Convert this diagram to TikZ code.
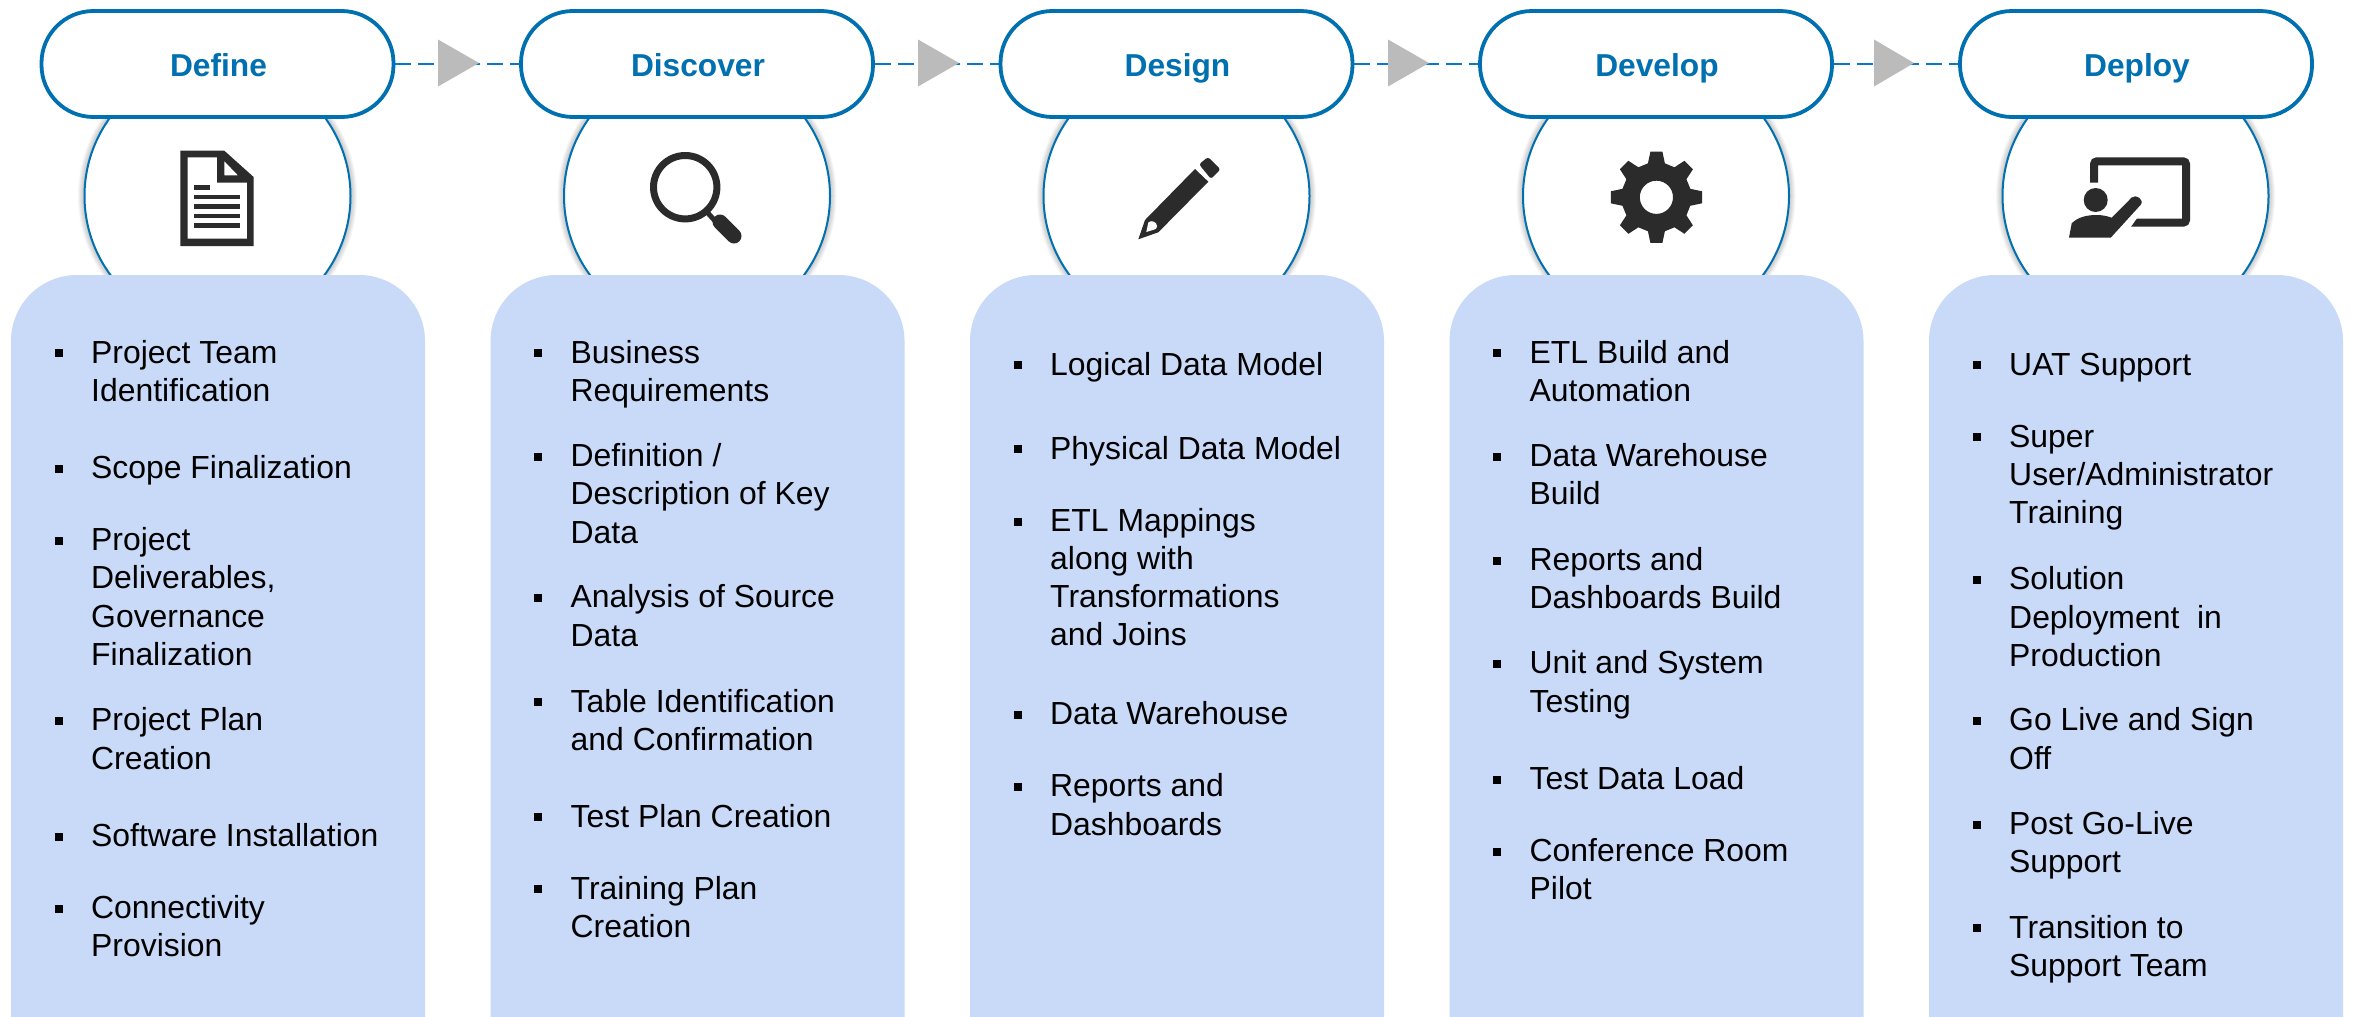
\documentclass[tikz,border=0pt]{standalone}
\usepackage{fontspec}
\setmainfont{Liberation Sans}
\definecolor{pillblue}{HTML}{0070B0}
\definecolor{dashblue}{HTML}{0A78C8}
\definecolor{cardblue}{HTML}{C9DAF8}
\definecolor{iconink}{HTML}{2B2B2B}
\definecolor{arrowgrey}{HTML}{BBBBBB}
\tikzset{
  pill/.style={draw=pillblue,line width=3.8pt,fill=white,rounded corners=52pt,minimum width=352pt,minimum height=106pt,
    inner sep=0pt,text height=24pt,text depth=0pt,text=pillblue,font=\fontsize{31.7}{38}\selectfont\bfseries},
  halo/.style={circle,draw=pillblue,line width=2pt,fill=white,minimum size=266pt,inner sep=0pt},
  glow/.style={draw=black,opacity=0.035},
  flow/.style={draw=dashblue,line width=2.8pt,dash pattern=on 16pt off 7pt},
  headtri/.style={fill=arrowgrey},
  itemtext/.style={anchor=north west,inner sep=0pt,align=left,text=black,font=\fontsize{31.9}{38.2}\selectfont},
  bulletmark/.style={fill=black,minimum size=8pt,inner sep=0pt,rectangle},
  icon/.style={fill=iconink}
}
\newcommand{\itm}[4]{%
  \pgfmathsetmacro{\bl}{1.5013*#3+11.6}%
  \node[bulletmark] (#1b) at (#2+47.8,\bl-9.5) {};
  \node[itemtext] (#1) at (#2+80,\bl-30) {\rule{0pt}{30pt}#4};
}
\begin{document}
\begin{tikzpicture}[x=1pt,y=-1pt]
\useasboundingbox (0,0) rectangle (2354,1017);
\fill[white] (0,0) rectangle (2354,1017);
% soft shadow round the circles
\foreach \cx in {217.5,697,1176.5,1656,2135.5}{
  \foreach \w in {3,5,7,9,11,13}{
    \draw[glow,line width=\w pt] (\cx,196) circle[radius=133pt];
  }
}
% circles
\node[halo] (c1) at (217.5,196) {};
\node[halo] (c2) at (697,196) {};
\node[halo] (c3) at (1176.5,196) {};
\node[halo] (c4) at (1656,196) {};
\node[halo] (c5) at (2135.5,196) {};
% cards
\foreach \L in {11,490.5,970,1449.5,1929}{
  \fill[cardblue] (\L,1017) [rounded corners=66pt] -- (\L,275) -- (\L+414,275) [sharp corners] -- (\L+414,1017) -- cycle;
}
% pills
\node[pill] (p1) at (217.5,64) {\hspace{2pt}Define};
\node[pill] (p2) at (697,64) {\hspace{2pt}Discover};
\node[pill] (p3) at (1176.5,64) {\hspace{2pt}Design};
\node[pill] (p4) at (1656,64) {\hspace{2pt}Develop};
\node[pill] (p5) at (2136,64) {\hspace{2pt}Deploy};
% connectors
\draw[flow] (p1.east) -- (p2.west);
\draw[flow] (p2.east) -- (p3.west);
\draw[flow] (p3.east) -- (p4.west);
\draw[flow] (p4.east) -- (p5.west);
\fill[headtri] (438,39.5) -- (479,63) -- (438,86.5) -- cycle;
\fill[headtri] (918,39.5) -- (959,63) -- (918,86.5) -- cycle;
\fill[headtri] (1388,39.5) -- (1429,63) -- (1388,86.5) -- cycle;
\fill[headtri] (1874,39.5) -- (1914,63) -- (1874,86.5) -- cycle;
% icon: document
\fill[icon,even odd rule] (180.4,150.7) -- (224.3,150.7) -- (253.6,177) -- (253.6,246) -- (180.4,246) -- cycle
  (187.5,157.3) -- (217,157.3) -- (217,182.7) -- (247,182.7) -- (247,238.7) -- (187.5,238.7) -- cycle
  (224.3,161) -- (238,175.3) -- (224.3,175.3) -- cycle;
\fill[icon] (194.3,185.4) rectangle (210,190);
\foreach \yy in {197,206.7,216,225.7}{\fill[icon] (194.3,\yy-2.3) rectangle (239.6,\yy+2.3);}
% icon: magnifier
\draw[iconink,line width=7pt] (685.2,187.2) circle[radius=31.7pt];
\draw[iconink,line width=5pt] (707,212) -- (716,222);
\draw[iconink,line width=15pt,line cap=round] (720,222) -- (734,236);
% icon: pencil
\fill[icon] (1138.3,239.3) -- (1145,220) -- (1195,169) -- (1208.3,181.7) -- (1158.3,232.3) -- cycle;
\fill[icon,rounded corners=2.5pt] (1199,164.3) -- (1208,157) -- (1220.5,169.3) -- (1211,179) -- cycle;
\fill[white] (1146.3,232) -- (1148.3,222.5) .. controls (1151,219.5) and (1157,222) .. (1157,226) .. controls (1157,228) and (1156,229) .. (1155,229.3) -- cycle;
% icon: gear
\begin{scope}[shift={(1656.4,197.3)}]
\fill[icon,even odd rule] (-13:35pt) \foreach \a in {0,45,...,315}{ -- (\a-14:35pt) -- (\a-7.5:46pt) -- (\a+7.5:46pt) -- (\a+14:35pt) } -- cycle (0,0) circle[radius=16.6pt];
\end{scope}
% icon: presenter
\draw[iconink,line width=8pt,rounded corners=3pt] (2094,182.7) -- (2094,161.3) -- (2186,161.3) -- (2186,222.7) -- (2130,222.7);
\fill[icon] (2095.7,200) circle[radius=12pt];
\fill[white] (2118,226) -- (2128,214) -- (2140,214) -- (2125,235) -- cycle;
\fill[icon] (2069,237.7) -- (2071.7,223.3) .. controls (2078,217) and (2087,215) .. (2096.7,215) .. controls (2102,215) and (2107,216) .. (2111.7,217.7) -- (2131.7,197.5) .. controls (2136,193.5) and (2145,200) .. (2140.5,205) -- (2110.7,237.7) -- cycle;
% column 1
\itm{a1}{11}{234}{Project Team\\Identification}
\itm{a2}{11}{311}{Scope Finalization}
\itm{a3}{11}{359}{Project\\Deliverables,\\Governance\\Finalization}
\itm{a4}{11}{479}{Project Plan\\Creation}
\itm{a5}{11}{556}{Software Installation}
\itm{a6}{11}{604}{Connectivity\\Provision}
% column 2
\itm{b1}{490.5}{234}{Business\\Requirements}
\itm{b2}{490.5}{303}{Definition /\\Description of Key\\Data}
\itm{b3}{490.5}{397}{Analysis of Source\\Data}
\itm{b4}{490.5}{466.5}{Table Identification\\and Confirmation}
\itm{b5}{490.5}{543}{Test Plan Creation}
\itm{b6}{490.5}{591}{Training Plan\\Creation}
% column 3
\itm{d1}{970}{242}{Logical Data Model}
\itm{d2}{970}{298}{Physical Data Model}
\itm{d3}{970}{346}{ETL Mappings\\along with\\Transformations\\and Joins}
\itm{d4}{970}{475}{Data Warehouse}
\itm{d5}{970}{523}{Reports and\\Dashboards}
% column 4
\itm{e1}{1449.5}{234}{ETL Build and\\Automation}
\itm{e2}{1449.5}{303}{Data Warehouse\\Build}
\itm{e3}{1449.5}{372}{Reports and\\Dashboards Build}
\itm{e4}{1449.5}{441}{Unit and System\\Testing}
\itm{e5}{1449.5}{518}{Test Data Load}
\itm{e6}{1449.5}{566}{Conference Room\\Pilot}
% column 5
\itm{f1}{1929}{242}{UAT Support}
\itm{f2}{1929}{290}{Super\\User/Administrator\\Training}
\itm{f3}{1929}{385}{Solution\\Deployment\ \ in\\Production}
\itm{f4}{1929}{479}{Go Live and Sign\\Off}
\itm{f5}{1929}{548}{Post Go-Live\\Support}
\itm{f6}{1929}{617}{Transition to\\Support Team}
\end{tikzpicture}
\end{document}
